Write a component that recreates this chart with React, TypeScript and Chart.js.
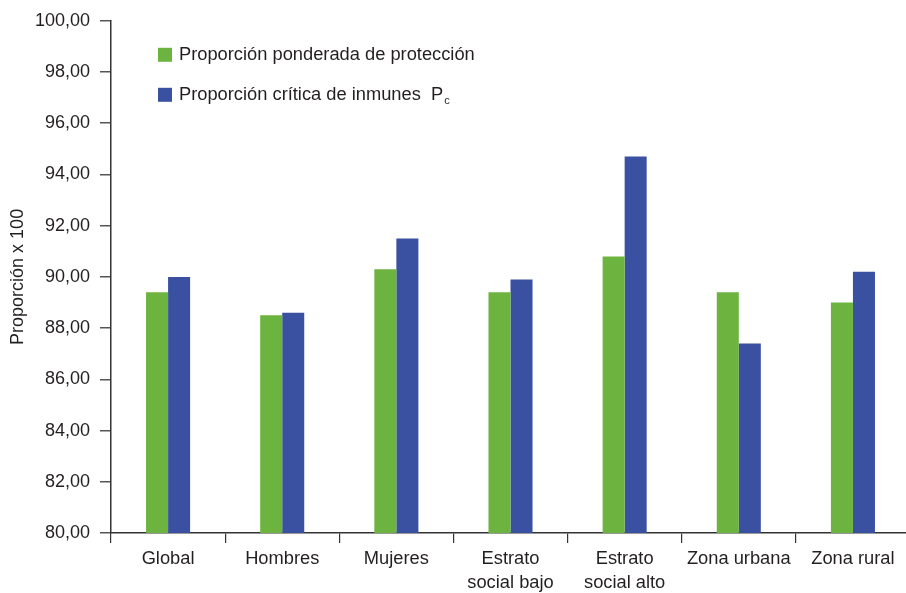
import React, { useEffect, useRef } from 'react';
import { Chart, registerables } from 'chart.js';

Chart.register(...registerables);

const FONT = '"Liberation Sans", Arial, Helvetica, sans-serif';

// Categories on the x axis (multi-line where the label wraps)
const categories: (string | string[])[] = [
  'Global',
  'Hombres',
  'Mujeres',
  ['Estrato', 'social bajo'],
  ['Estrato', 'social alto'],
  'Zona urbana',
  'Zona rural',
];

// Series values (proportion x 100)
const proporcionPonderada = [89.4, 88.5, 90.3, 89.4, 90.8, 89.4, 89.0];
const proporcionCritica = [90.0, 88.6, 91.5, 89.9, 94.7, 87.4, 90.2];

// Series names; the second one carries a subscript "c" after the P
const seriesLabels = ['Proporción ponderada de protección', 'Proporción crítica de inmunes  P'];
const seriesSubscripts = ['', 'c'];

// Y axis range and tick step
const yMin = 80;
const yMax = 100;
const yStep = 2;
const yTitle = 'Proporción x 100';

const GREEN = '#6db33f';
const BLUE = '#3a50a0';

// Legend drawn by hand so the subscript can be rendered
const subscriptLegend = {
  id: 'subscriptLegend',
  afterDraw(chart: any, _args: any, opts: any) {
    const { ctx, chartArea } = chart;
    ctx.save();
    chart.data.datasets.forEach((ds: any, i: number) => {
      const x = chartArea.left + opts.offsetX;
      const y = chartArea.top + opts.offsetY + i * opts.rowGap;
      ctx.fillStyle = ds.backgroundColor;
      ctx.fillRect(x, y - 7, 14, 14);
      ctx.font = `18.3px ${FONT}`;
      ctx.fillStyle = '#231f20';
      ctx.textBaseline = 'middle';
      ctx.textAlign = 'left';
      ctx.fillText(ds.label, x + 21, y);
      const sub = seriesSubscripts[i];
      if (sub) {
        const w = ctx.measureText(ds.label).width;
        ctx.font = `11px ${FONT}`;
        ctx.fillText(sub, x + 21 + w + 1, y + 6);
      }
    });
    ctx.restore();
  },
};

export default function App() {
  const canvasRef = useRef<HTMLCanvasElement | null>(null);

  useEffect(() => {
    if (!canvasRef.current) return;
    const chart = new Chart(canvasRef.current, {
      type: 'bar',
      data: {
        labels: categories as any,
        datasets: [
          {
            label: seriesLabels[0],
            data: proporcionPonderada,
            backgroundColor: GREEN,
            categoryPercentage: 0.386,
            barPercentage: 1,
          },
          {
            label: seriesLabels[1],
            data: proporcionCritica,
            backgroundColor: BLUE,
            categoryPercentage: 0.386,
            barPercentage: 1,
          },
        ],
      },
      plugins: [subscriptLegend],
      options: {
        animation: false,
        responsive: true,
        maintainAspectRatio: false,
        layout: { padding: { top: 16, right: 0, bottom: 0, left: 0 } },
        plugins: {
          legend: { display: false },
          tooltip: { enabled: false },
          subscriptLegend: { offsetX: 47, offsetY: 34, rowGap: 40 },
        } as any,
        scales: {
          x: {
            offset: true,
            border: { display: true, color: '#333', width: 1.5 },
            grid: {
              display: true,
              offset: true,
              drawOnChartArea: false,
              tickLength: 10,
              color: '#333',
              lineWidth: 1.2,
            },
            ticks: {
              color: '#231f20',
              font: { family: FONT, size: 18.3, lineHeight: 1.3 },
              padding: 4,
              maxRotation: 0,
              autoSkip: false,
            },
            afterFit(scale: any) {
              scale.height = 60;
            },
          },
          y: {
            min: yMin,
            max: yMax,
            border: { display: true, color: '#333', width: 1.5 },
            grid: {
              display: true,
              drawOnChartArea: false,
              tickLength: 11,
              color: '#555',
              lineWidth: 1.5,
            },
            ticks: {
              stepSize: yStep,
              color: '#231f20',
              padding: 10,
              font: { family: FONT, size: 18 },
              callback: (v: any) => Number(v).toFixed(2).replace('.', ','),
            },
            title: {
              display: true,
              text: yTitle,
              color: '#231f20',
              font: { family: FONT, size: 18 },
              padding: { top: 7, bottom: 0 },
            },
            afterFit(scale: any) {
              scale.width = 111;
            },
          },
        },
      },
    });
    return () => chart.destroy();
  }, []);

  return (
    <div style={{ position: 'fixed', left: 0, top: 0, width: 906, height: 593, overflow: 'hidden', background: '#fff' }}>
      <div style={{ position: 'relative', width: 910, height: 593 }}>
        <canvas ref={canvasRef} />
      </div>
    </div>
  );
}
